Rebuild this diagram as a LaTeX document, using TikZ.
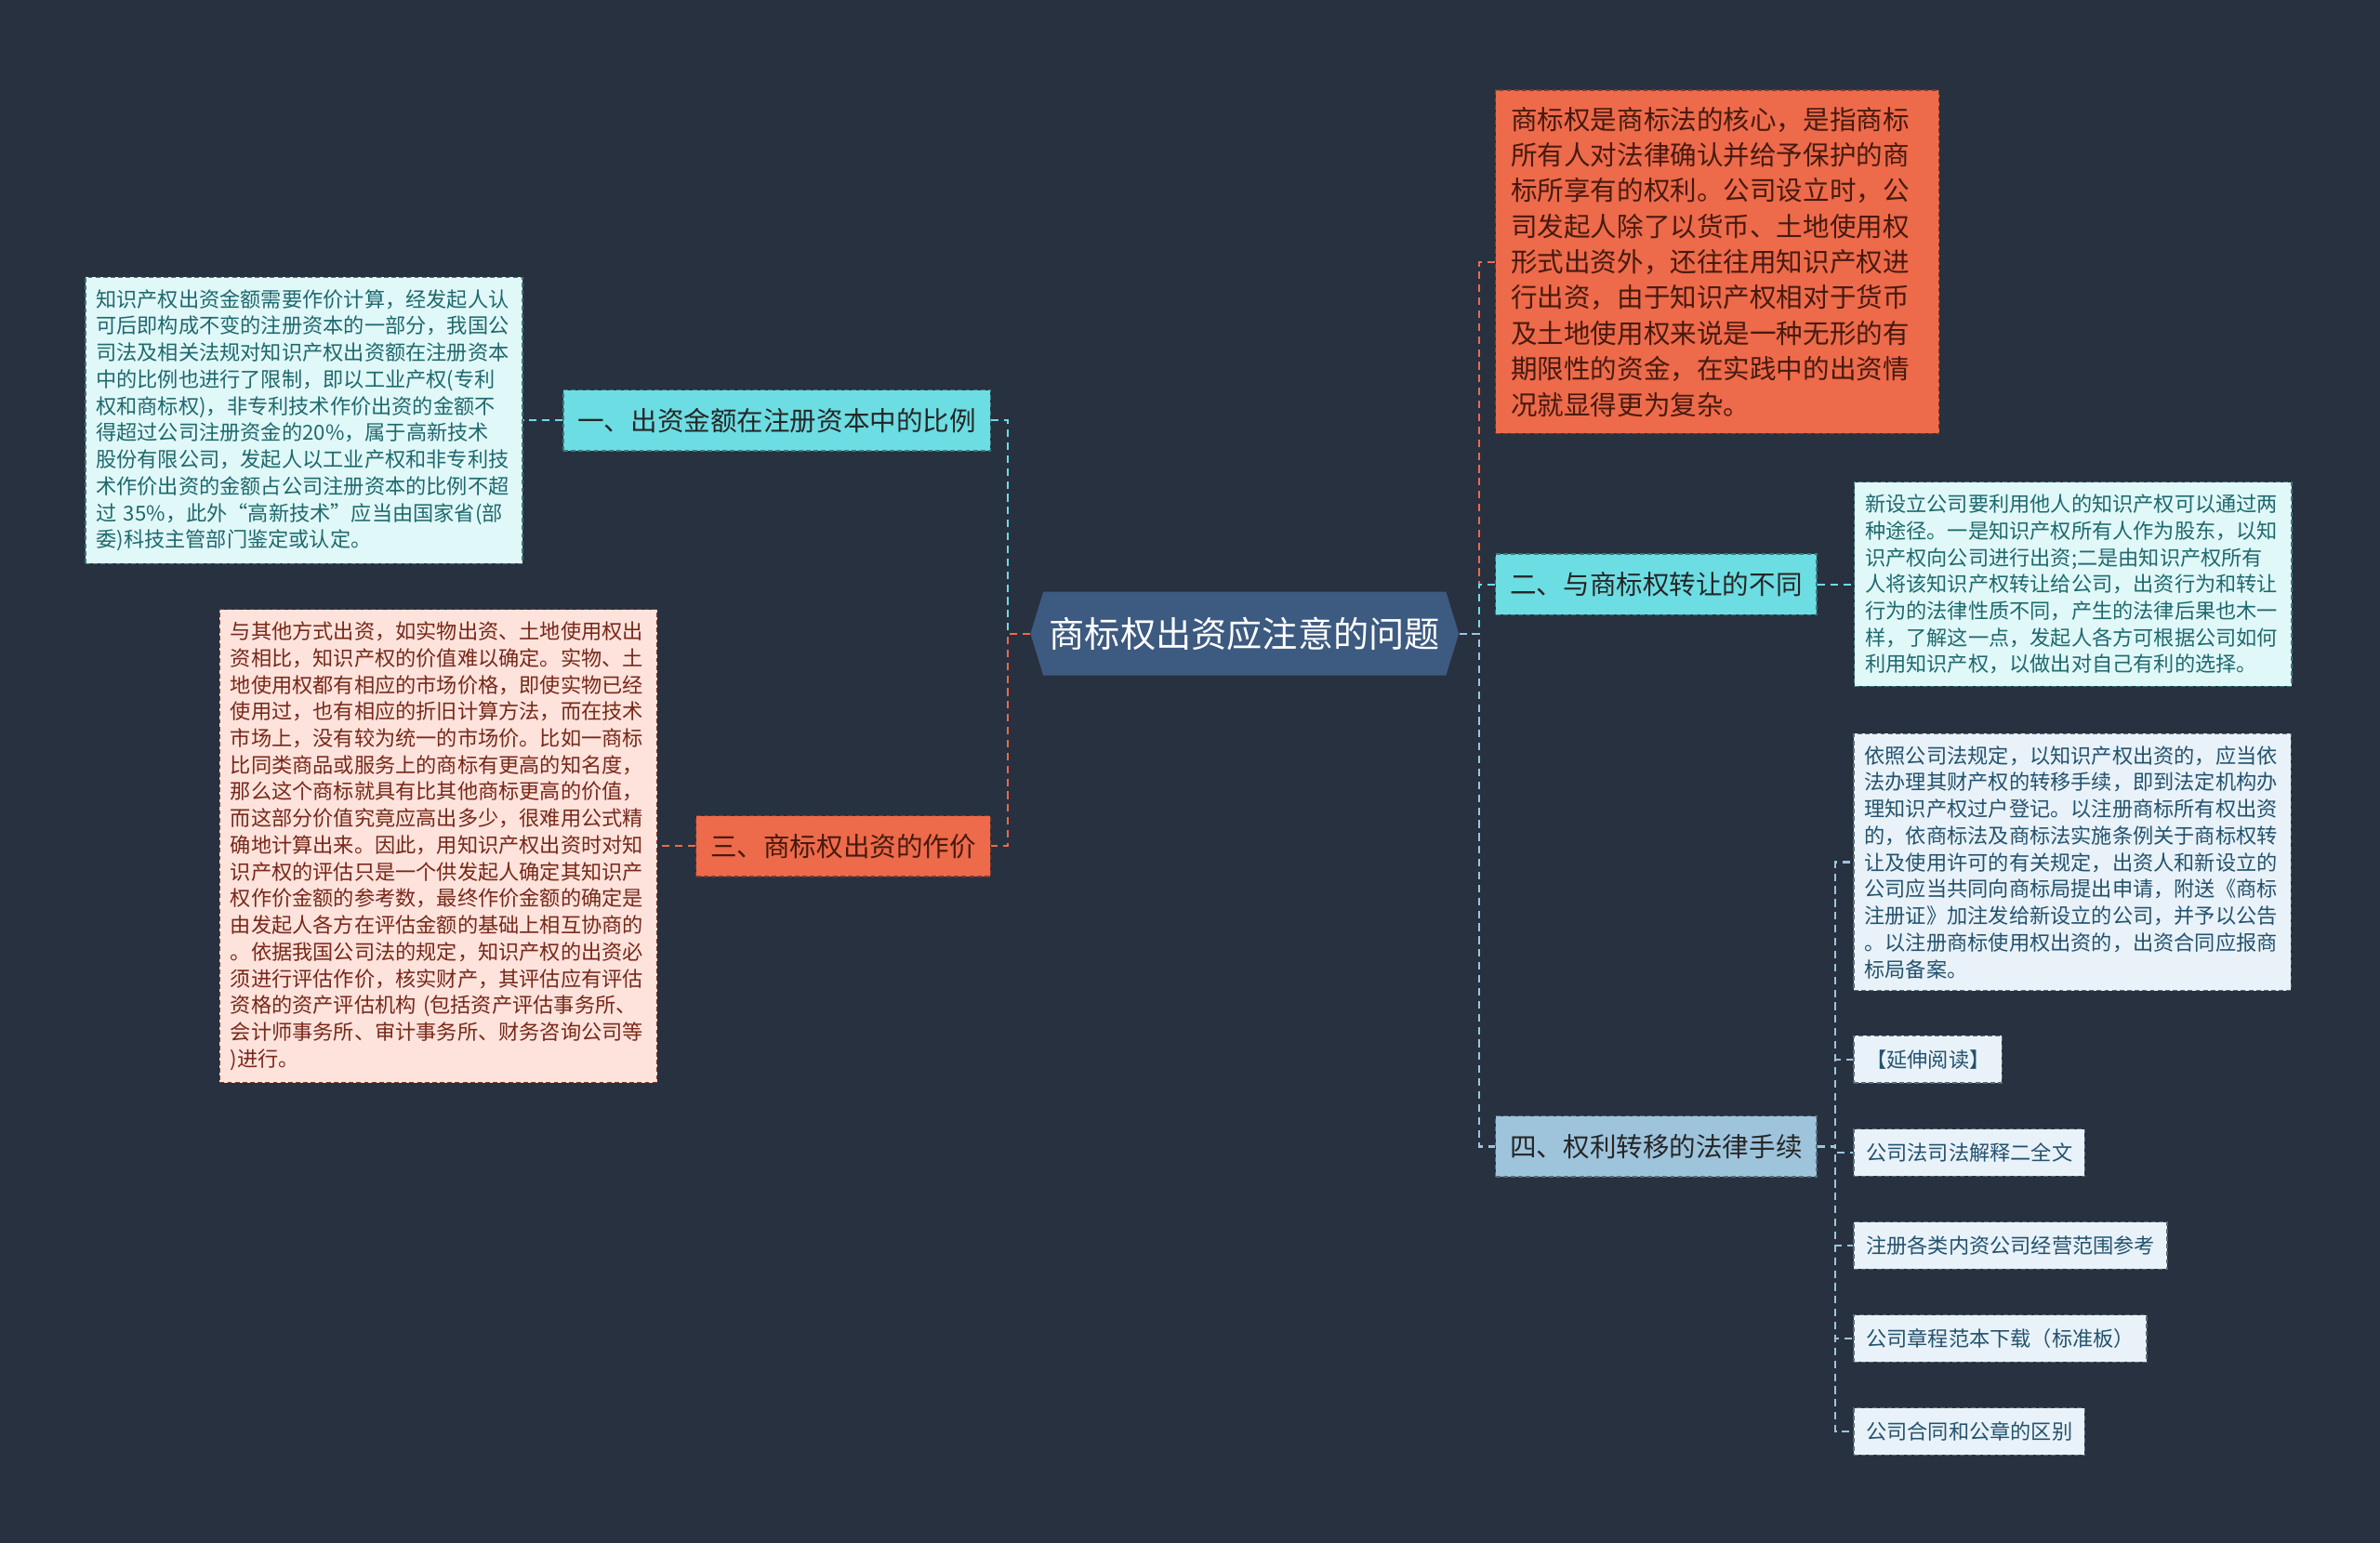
\documentclass[tikz,border=0pt]{standalone}
\usepackage{fontspec}
\setmainfont{Noto Sans CJK SC}
\definecolor{bgNavy}{RGB}{40,49,64}
\definecolor{rootBlue}{RGB}{61,90,128}
\definecolor{mint}{RGB}{108,221,227}
\definecolor{mintPale}{RGB}{225,248,248}
\definecolor{mintText}{RGB}{30,105,110}
\definecolor{coral}{RGB}{237,106,74}
\definecolor{coralPale}{RGB}{253,227,220}
\definecolor{coralText}{RGB}{120,40,25}
\definecolor{coralDeep}{RGB}{70,26,16}
\definecolor{sky}{RGB}{158,196,220}
\definecolor{skyPale}{RGB}{232,242,248}
\definecolor{skyText}{RGB}{36,82,110}
\usetikzlibrary{positioning, shapes.symbols}

\begin{document}
\begin{tikzpicture}[
    x=1pt, y=-1pt,
    rootnode/.style={
      signal, signal to=west and east, signal pointer angle=146,
      fill=rootBlue, text=white, minimum width=280pt, minimum height=55pt,
      inner xsep=4pt, font=\fontsize{23.4}{28}\selectfont
    },
    branch/.style={
      rectangle, fill=#1, draw=#1!55!black, dash pattern=on 3pt off 2pt,
      line width=0.8pt, text=black!85, minimum height=40pt, inner xsep=9.5pt,
      font=\fontsize{17.5}{21}\selectfont
    },
    bignote/.style={branch=coral, align=left, text width=272pt, text=coralDeep,
      inner xsep=10pt, inner ysep=11pt, font=\fontsize{17.5}{23.5}\selectfont},
    card/.style={
      rectangle, fill=#1Pale, draw=#1!55!black, text=#1Text,
      dash pattern=on 3pt off 2pt, line width=0.8pt,
      font=\fontsize{13.6}{17.6}\selectfont
    },
    note/.style={card=#1, align=left, text width=274pt, inner xsep=7pt, inner ysep=8pt},
    tag/.style={card=#1, minimum height=31pt, inner xsep=8pt, inner ysep=0pt},
    link/.style={draw=#1, line width=1.3pt, dash pattern=on 5pt off 3.5pt},
  ]
    \fill[bgNavy] (0,0) rectangle (1568,1016.75);
    \useasboundingbox (0,0) rectangle (1568,1016.75);

    \node[rootnode] (root) at (820,417.5) {商标权出资应注意的问题};

    % Left side
    \node[branch=mint, anchor=east] (b1) at (653,277) {一、出资金额在注册资本中的比例};
    \node[note=mint, left=26pt of b1] (n1) {知识产权出资金额需要作价计算，经发起人认\\
可后即构成不变的注册资本的一部分，我国公\\
司法及相关法规对知识产权出资额在注册资本\\
中的比例也进行了限制，即以工业产权(专利\\
权和商标权)，非专利技术作价出资的金额不\\
得超过公司注册资金的20\%，属于高新技术\\
股份有限公司，发起人以工业产权和非专利技\\
术作价出资的金额占公司注册资本的比例不超\\
过 35\%，此外“高新技术”应当由国家省(部\\
委)科技主管部门鉴定或认定。};
    \node[branch=coral, text=coralDeep, anchor=east] (b3) at (653,557.5) {三、商标权出资的作价};
    \node[note=coral, left=25pt of b3] (n3) {与其他方式出资，如实物出资、土地使用权出\\
资相比，知识产权的价值难以确定。实物、土\\
地使用权都有相应的市场价格，即使实物已经\\
使用过，也有相应的折旧计算方法，而在技术\\
市场上，没有较为统一的市场价。比如一商标\\
比同类商品或服务上的商标有更高的知名度，\\
那么这个商标就具有比其他商标更高的价值，\\
而这部分价值究竟应高出多少，很难用公式精\\
确地计算出来。因此，用知识产权出资时对知\\
识产权的评估只是一个供发起人确定其知识产\\
权作价金额的参考数，最终作价金额的确定是\\
由发起人各方在评估金额的基础上相互协商的\\
。依据我国公司法的规定，知识产权的出资必\\
须进行评估作价，核实财产，其评估应有评估\\
资格的资产评估机构 (包括资产评估事务所、\\
会计师事务所、审计事务所、财务咨询公司等\\
)进行。};

    % Right side
    \node[bignote, anchor=west] (b0) at (985,172.5) {商标权是商标法的核心，是指商标\\
所有人对法律确认并给予保护的商\\
标所享有的权利。公司设立时，公\\
司发起人除了以货币、土地使用权\\
形式出资外，还往往用知识产权进\\
行出资，由于知识产权相对于货币\\
及土地使用权来说是一种无形的有\\
期限性的资金，在实践中的出资情\\
况就显得更为复杂。};
    \node[branch=mint, anchor=west] (b2) at (985,385) {二、与商标权转让的不同};
    \node[note=mint, right=24pt of b2] (n2) {新设立公司要利用他人的知识产权可以通过两\\
种途径。一是知识产权所有人作为股东，以知\\
识产权向公司进行出资;二是由知识产权所有\\
人将该知识产权转让给公司，出资行为和转让\\
行为的法律性质不同，产生的法律后果也木一\\
样，了解这一点，发起人各方可根据公司如何\\
利用知识产权，以做出对自己有利的选择。};
    \node[branch=sky, anchor=west] (b4) at (985,755.5) {四、权利转移的法律手续};
    \node[note=sky, anchor=north west] (c1) at (1221,483) {依照公司法规定，以知识产权出资的，应当依\\
法办理其财产权的转移手续，即到法定机构办\\
理知识产权过户登记。以注册商标所有权出资\\
的，依商标法及商标法实施条例关于商标权转\\
让及使用许可的有关规定，出资人和新设立的\\
公司应当共同向商标局提出申请，附送《商标\\
注册证》加注发给新设立的公司，并予以公告\\
。以注册商标使用权出资的，出资合同应报商\\
标局备案。};
    \node[tag=sky, below=29pt of c1.south west, anchor=north west] (c2) {【延伸阅读】};
    \node[tag=sky, below=29.5pt of c2.south west, anchor=north west] (c3) {公司法司法解释二全文};
    \node[tag=sky, below=29.5pt of c3.south west, anchor=north west] (c4) {注册各类内资公司经营范围参考};
    \node[tag=sky, below=29.5pt of c4.south west, anchor=north west] (c5) {公司章程范本下载（标准板）};
    \node[tag=sky, below=29.5pt of c5.south west, anchor=north west] (c6) {公司合同和公章的区别};

    % Connectors
    \draw[link=mint] (root.west) -- ++(-15,0) |- (b1.east);
    \draw[link=coral] (root.west) -- ++(-15,0) |- (b3.east);
    \draw[link=mint] (b1.west) -- (n1.east);
    \draw[link=coral] (b3.west) -- (n3.east);

    \draw[link=coral] (root.east) -- ++(13,0) |- (b0.west);
    \draw[link=mint] (root.east) -- ++(13,0) |- (b2.west);
    \draw[link=sky] (root.east) -- ++(13,0) |- (b4.west);
    \draw[link=mint] (b2.east) -- (n2.west);
    \foreach \i in {1,...,6} {
      \draw[link=sky] (b4.east) -- ++(12,0) |- (c\i.west);
    }
  \end{tikzpicture}
\end{document}
